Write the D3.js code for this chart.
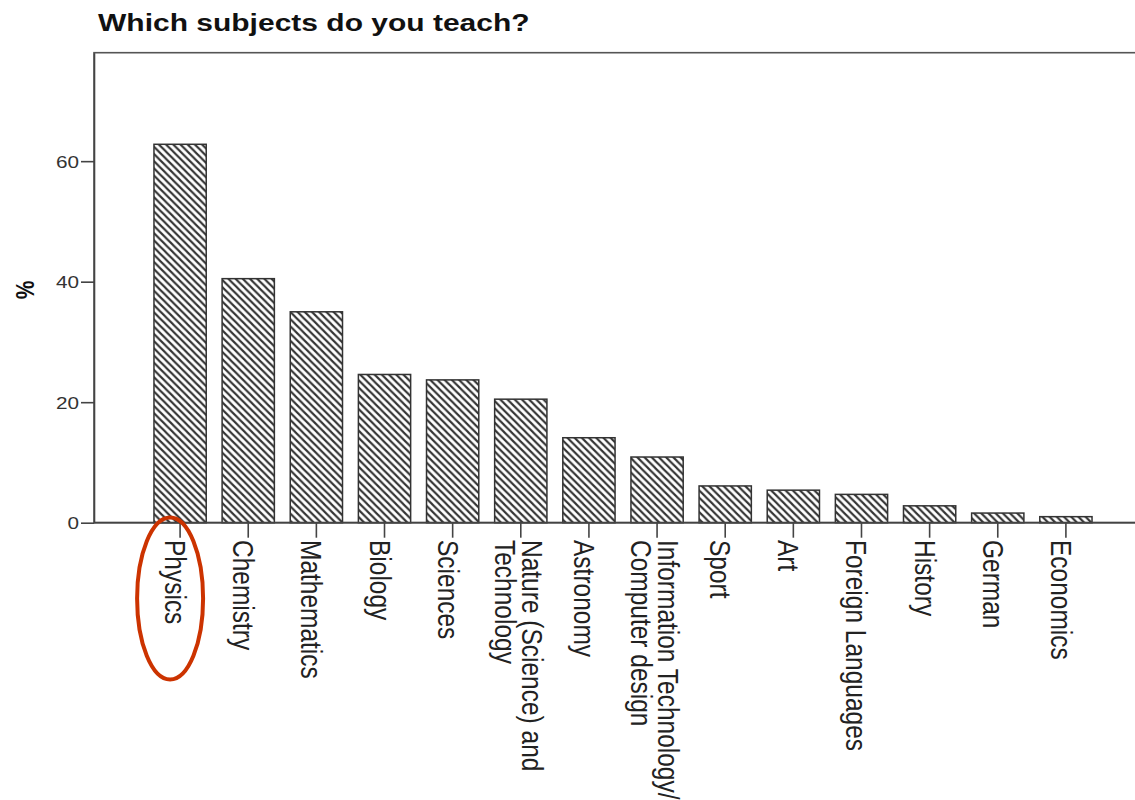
<!DOCTYPE html>
<html><head><meta charset="utf-8">
<script src="https://cdn.jsdelivr.net/npm/d3@7"></script>
<style>body{margin:0;background:#fff}svg{display:block}</style>
</head><body>
<svg id="c" width="1135" height="800"></svg>
<script>
const title = "Which subjects do you teach?";
const yLabel = "%";
const categories = ["Physics","Chemistry","Mathematics","Biology","Sciences",
  "Nature (Science) and\nTechnology","Astronomy","Information Technology/\nComputer design",
  "Sport","Art","Foreign Languages","History","German","Economics"];
const values = [62.8,40.5,35.0,24.6,23.7,20.5,14.1,10.9,6.1,5.4,4.7,2.8,1.6,1.0];
const yTicks = [0,20,40,60];
const highlighted = "Physics";

const SX = 1.22; // horizontal text stretch seen in the reference
const svg = d3.select("#c");
const FONT = "'Liberation Sans', Arial, sans-serif";

const x = d3.scaleBand().domain(categories).range([94,1152]).paddingInner(0.233).paddingOuter(0.88);
const y = d3.scaleLinear().domain([0,78]).range([522.7,52.7]);

// hatch pattern
const defs = svg.append("defs");
const p = 7.2;
const pat = defs.append("pattern").attr("id","hatch").attr("patternUnits","userSpaceOnUse")
  .attr("width",p).attr("height",p);
pat.append("rect").attr("width",p).attr("height",p).attr("fill","#fff");
pat.append("path")
  .attr("d",`M0,0L${p},${p}M${-p/2},${p/2}L${p/2},${p*1.5}M${p/2},${-p/2}L${p*1.5},${p/2}`)
  .attr("stroke","#333").attr("stroke-width",2.1);

// frame
svg.append("rect").attr("x",94).attr("y",y(78)).attr("width",1152-94).attr("height",y(0)-y(78))
  .attr("fill","none").attr("stroke","#555").attr("stroke-width",1.6);

// bars
svg.append("g").selectAll("rect").data(categories).join("rect")
  .attr("x",d=>x(d)).attr("width",x.bandwidth())
  .attr("y",(d,i)=>y(values[i])).attr("height",(d,i)=>y(0)-y(values[i]))
  .attr("fill","url(#hatch)").attr("stroke","#333").attr("stroke-width",1.5);

// y axis
const ya = svg.append("g").attr("transform","translate(94,0)")
  .call(d3.axisLeft(y).tickValues(yTicks).tickSize(13).tickPadding(3).tickSizeOuter(0));
ya.select(".domain").attr("stroke","#444").attr("stroke-width",1.6);
ya.selectAll(".tick line").attr("stroke","#444").attr("stroke-width",1.6);
ya.selectAll(".tick text").attr("x",null).attr("dy","0.35em")
  .attr("transform",`translate(-15,0) scale(${SX},1)`)
  .attr("font-family",FONT).attr("font-size",17).attr("fill","#333");

// x axis
const xa = svg.append("g").attr("transform",`translate(0,${y(0)})`)
  .call(d3.axisBottom(x).tickSize(15).tickSizeOuter(0).tickFormat(""));
xa.select(".domain").attr("d",`M94,0H1135`).attr("stroke","#444").attr("stroke-width",1.8);
xa.selectAll(".tick line").attr("stroke","#444").attr("stroke-width",1.6);

// x labels rotated
const lg = svg.append("g");
categories.forEach(c=>{
  const lines = c.split("\n");
  const cx = x(c)+x.bandwidth()/2;
  lines.forEach((ln,j)=>{
    const bx = cx - 15 + (lines.length-1)*16 - j*27;
    lg.append("text").text(ln)
      .attr("transform",`translate(${bx},540) scale(${SX},1) rotate(90)`)
      .attr("font-family",FONT).attr("font-size",24.5).attr("fill","#222");
  });
});

// y label
svg.append("text").text(yLabel)
  .attr("transform",`translate(34,290) scale(${SX},1) rotate(-90)`)
  .attr("text-anchor","middle").attr("font-family",FONT).attr("font-weight","bold")
  .attr("font-size",21).attr("fill","#111");

// title
svg.append("text").text(title)
  .attr("transform",`translate(98,31) scale(${SX},1)`)
  .attr("font-family",FONT).attr("font-weight","bold").attr("font-size",24.6).attr("fill","#111");

// red highlight ellipse
svg.append("ellipse")
  .attr("cx",x(highlighted)+x.bandwidth()/2-10).attr("cy",598.5)
  .attr("rx",33).attr("ry",81)
  .attr("fill","none").attr("stroke","#cc3300").attr("stroke-width",4);
</script>
</body></html>
